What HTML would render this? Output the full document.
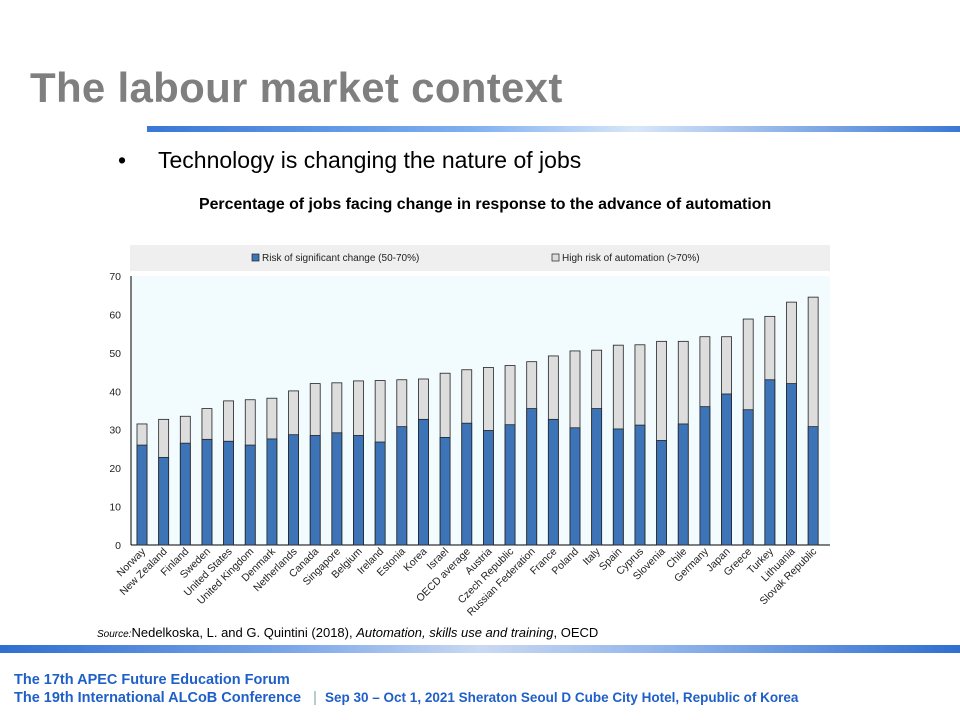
<!DOCTYPE html>
<html><head><meta charset="utf-8"><style>
body{margin:0;width:960px;height:720px;background:#fff;position:relative;overflow:hidden;font-family:"Liberation Sans",sans-serif}
.t{position:absolute;left:30px;top:64px;font-size:42px;font-weight:bold;color:#7f7f7f;letter-spacing:0.3px}
.bar1{position:absolute;left:147px;top:126px;width:813px;height:6px;background:linear-gradient(90deg,#3a78d6,#7fb0f0 40%,#d8e6f8 60%,#3a78d6)}
.b{position:absolute;left:118px;top:147px;font-size:23px;color:#000}
.ct{position:absolute;left:199px;top:196px;font-size:15.9px;font-weight:bold}
.src{position:absolute;left:97px;top:625px;font-size:13px;color:#000}
.band{position:absolute;left:0;top:645px;width:960px;height:8px;background:linear-gradient(90deg,#2f6fd0,#7aa6e8 30%,#c9d9f2 50%,#8fb3ea 70%,#2f6fd0)}
.f{position:absolute;left:14px;font-size:14.5px;font-weight:bold;color:#1f5fc8}
</style></head><body>
<div class="t">The labour market context</div>
<div class="bar1"></div>
<div class="b">•&nbsp;&nbsp;&nbsp;&nbsp;&nbsp;Technology is changing the nature of jobs</div>
<div class="ct">Percentage of jobs facing change in response to the advance of automation</div>
<svg style="position:absolute;left:0;top:0" width="960" height="720" font-family="Liberation Sans, sans-serif">
<rect x="130" y="245" width="700" height="26" fill="#efefef"/>
<rect x="252" y="254" width="7" height="7" fill="#3d74b8" stroke="#222" stroke-width="0.7"/>
<text x="262" y="261" font-size="10" fill="#222">Risk of significant change (50-70%)</text>
<rect x="552" y="254" width="7" height="7" fill="#ddd" stroke="#222" stroke-width="0.7"/>
<text x="562" y="261" font-size="10" fill="#222">High risk of automation (&gt;70%)</text>
<rect x="131" y="276" width="699" height="269" fill="#f2fbfd"/>
<line x1="131" y1="276" x2="131" y2="545" stroke="#000"/>
<line x1="131" y1="545" x2="830" y2="545" stroke="#000"/>
<g font-size="10.5" fill="#222" text-anchor="end" id="yl"></g>
<g id="bars"></g>
<g id="xl" font-size="10.5" fill="#222" text-anchor="end"></g>
</svg>
<div class="src"><i style="font-size:10px">Source:</i>Nedelkoska, L. and G. Quintini (2018), <i>Automation, skills use and training</i>, OECD</div>
<div class="band"></div>
<div class="f" style="top:672px">The 17th APEC Future Education Forum</div>
<div class="f" style="top:690px">The 19th International ALCoB Conference &nbsp;&nbsp;<span style="font-weight:normal;color:#8aa">|</span>&nbsp;&nbsp;<span style="font-size:13.5px">Sep 30 – Oct 1, 2021 Sheraton Seoul D Cube City Hotel, Republic of Korea</span></div>
<script>
var d=[["Norway",31.5,26],["New Zealand",32.7,22.8],["Finland",33.5,26.5],["Sweden",35.5,27.5],["United States",37.5,27],["United Kingdom",37.8,26],["Denmark",38.2,27.6],["Netherlands",40.1,28.7],["Canada",42,28.5],["Singapore",42.2,29.2],["Belgium",42.7,28.5],["Ireland",42.8,26.8],["Estonia",43,30.8],["Korea",43.2,32.7],["Israel",44.7,28],["OECD average",45.6,31.7],["Austria",46.2,29.8],["Czech Republic",46.7,31.3],["Russian Federation",47.7,35.5],["France",49.2,32.7],["Poland",50.5,30.5],["Italy",50.7,35.5],["Spain",52,30.2],["Cyprus",52.1,31.2],["Slovenia",53,27.2],["Chile",53,31.5],["Germany",54.2,36],["Japan",54.2,39.3],["Greece",58.8,35.2],["Turkey",59.5,43],["Lithuania",63.2,42],["Slovak Republic",64.5,30.8]];
var ns="http://www.w3.org/2000/svg",s=269/70;
function el(t,a,p,tx){var e=document.createElementNS(ns,t);for(var k in a)e.setAttribute(k,a[k]);if(tx!==undefined)e.textContent=String(tx);document.getElementById(p).appendChild(e);}
for(var v=0;v<=70;v+=10)el("text",{x:121,y:545-v*s+4},"yl",v);
d.forEach(function(r,i){var cx=142+i*21.65;
el("rect",{x:cx-5,y:545-r[1]*s,width:10,height:r[1]*s,fill:"#dddddd",stroke:"#222","stroke-width":0.8},"bars");
el("rect",{x:cx-5,y:545-r[2]*s,width:10,height:r[2]*s,fill:"#3d74b8",stroke:"#222","stroke-width":0.8},"bars");
el("text",{x:cx+4,y:552,transform:"rotate(-45 "+(cx+4)+" 552)"},"xl",r[0]);});
</script>
</body></html>
